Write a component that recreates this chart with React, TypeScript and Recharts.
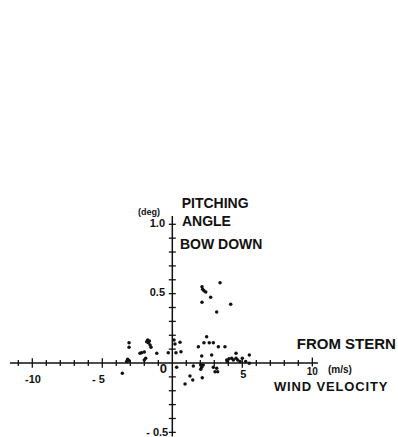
import { ReferenceDot, ReferenceLine, Scatter, ScatterChart, XAxis, YAxis } from 'recharts';

// pitching angle (deg) vs wind velocity (m/s)
const windSpeed = [
  2.12, 2.17, 2.26, 2.39, 3.41, 2.74, 2.12, 4.17, 3.17,
  -3.09, -3.09, -1.76, -1.64, -1.83, -1.71, -1.59, -1.52, -2.31, -2.19, -2.0, -1.11, -0.29,
  -3.19, -3.26, -3.09, -1.9, -2.0, -3.57,
  0.12, 0.19, 0.55, 0.26, 0.62, 0.31,
  2.45, 2.26, 2.64, 2.93, 3.29, 3.76, 1.86, 2.81, 2.1,
  1.5, 2.03, 2.21, 2.1, 2.03, 2.93, 3.05, 1.26, 1.46, 0.91, 2.14, 3.24, 3.17,
  3.89, 4.05, 4.24, 4.36, 4.55, 4.67, 4.84, 5.0, 5.24, 5.5, 5.5, 4.55, 3.93,
];
const pitchAngle = [
  0.55, 0.531, 0.521, 0.512, 0.579, 0.474, 0.438, 0.423, 0.368,
  0.146, 0.113, 0.166, 0.159, 0.154, 0.146, 0.13, 0.113, 0.07, 0.074, 0.079, 0.07, 0.074,
  0.027, 0.01, 0.017, 0.034, 0.022, -0.074,
  0.166, 0.137, 0.149, 0.074, 0.081, -0.031,
  0.19, 0.146, 0.146, 0.146, 0.118, 0.118, 0.118, 0.058, 0.05,
  -0.022, -0.014, -0.014, -0.031, -0.045, -0.031, -0.063, -0.094, -0.123, -0.151, -0.106, -0.063, -0.038,
  0.022, 0.031, 0.034, 0.022, 0.034, 0.022, 0.01, 0.034, 0.01, 0.058, -0.002, 0.07, 0.01,
];

const xTicks = [-11, -10, -9, -8, -7, -6, -5, -4, -3, -2, -1, 1, 2, 3, 4, 5, 6, 7, 8, 9, 10];
const yTicks = [-0.5, -0.4, -0.3, -0.2, -0.1, 0.1, 0.2, 0.3, 0.4, 0.5, 0.6, 0.7, 0.8, 0.9, 1.0];

const points = windSpeed.map((x, i) => ({ x, y: pitchAngle[i] }));

// text annotations placed in data units
const notes = [
  { text: '-10', x: -9.95, y: -0.115, anchor: 'middle', size: 11 },
  { text: '- 5', x: -5.28, y: -0.115, anchor: 'middle', size: 11 },
  { text: '0', x: -0.64, y: -0.043, anchor: 'middle', size: 13 },
  { text: '5', x: 5.07, y: -0.079, anchor: 'middle', size: 11 },
  { text: '10', x: 10.0, y: -0.06, anchor: 'middle', size: 10 },
  { text: '(m/s)', x: 11.12, y: -0.05, anchor: 'start', size: 10 },
  { text: 'WIND VELOCITY', x: 7.26, y: -0.166, anchor: 'start', size: 13, spacing: 0.85 },
  { text: 'FROM STERN', x: 8.89, y: 0.137, anchor: 'start', size: 15 },
  { text: 'PITCHING', x: 0.67, y: 1.151, anchor: 'start', size: 14 },
  { text: 'ANGLE', x: 0.69, y: 1.026, anchor: 'start', size: 14 },
  { text: 'BOW DOWN', x: 0.55, y: 0.856, anchor: 'start', size: 14 },
  { text: '(deg)', x: -2.45, y: 1.087, anchor: 'start', size: 9 },
  { text: '1.0', x: -0.52, y: 1.007, anchor: 'end', size: 11 },
  { text: '0.5', x: -0.52, y: 0.51, anchor: 'end', size: 11 },
  { text: '- 0.5', x: -0.29, y: -0.495, anchor: 'end', size: 11 },
];

const ink = '#111';

export default function App() {
  return (
    <div style={{ position: 'absolute', left: 0, top: 0, background: '#fff' }}>
      <ScatterChart width={398} height={437} margin={{ top: 0, right: 0, bottom: 0, left: 0 }}>
        <XAxis type="number" dataKey="x" domain={[-12.307, 16.12]} hide allowDataOverflow />
        <YAxis type="number" dataKey="y" domain={[-0.5335, 2.617]} hide allowDataOverflow />
        <ReferenceLine segment={[{ x: -11.6, y: 0 }, { x: 10.4, y: 0 }]} stroke={ink} strokeWidth={1.5} />
        <ReferenceLine segment={[{ x: 0, y: -0.53 }, { x: 0, y: 1.06 }]} stroke={ink} strokeWidth={1.5} />
        {xTicks.map((t) => {
          const h = t === 10 ? 0.04 : t % 5 === 0 ? 0.034 : 0.022;
          const lo = t === 10 ? 0.026 : h;
          return (
            <ReferenceLine key={`xt${t}`} segment={[{ x: t, y: -lo }, { x: t, y: h }]} stroke={ink} strokeWidth={1.3} />
          );
        })}
        {yTicks.map((t) => (
          <ReferenceLine key={`yt${t}`} segment={[{ x: -0.25, y: t }, { x: 0.25, y: t }]} stroke={ink} strokeWidth={1.3} />
        ))}
        <Scatter data={points} fill={ink} isAnimationActive={false} shape={(p: any) => <circle cx={p.cx} cy={p.cy} r={1.75} fill={ink} />} />
        {notes.map((n) => (
          <ReferenceDot
            key={n.text}
            x={n.x}
            y={n.y}
            r={0}
            shape={(p: any) => (
              <text
                x={p.cx}
                y={p.cy}
                textAnchor={n.anchor as any}
                dominantBaseline="central"
                fontFamily="'Liberation Sans', Arial, sans-serif"
                fontWeight="bold"
                fontSize={n.size}
                letterSpacing={n.spacing ?? 0}
                fill={ink}
              >
                {n.text}
              </text>
            )}
          />
        ))}
      </ScatterChart>
    </div>
  );
}
